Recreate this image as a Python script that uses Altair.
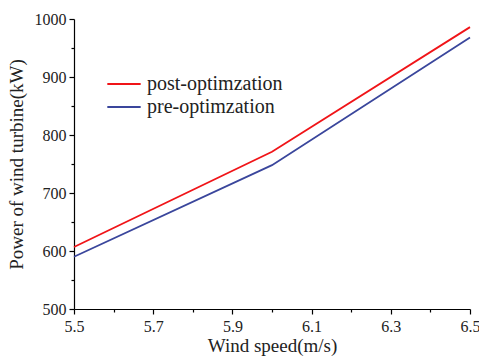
import altair as alt
import pandas as pd

wind_speed = [5.5, 6.0, 6.5]
post_opt = [607, 771, 986]
pre_opt = [590, 748, 968]
series_names = ["post-optimzation", "pre-optimzation"]
x_ticks = [5.5, 5.6, 5.7, 5.8, 5.9, 6.0, 6.1, 6.2, 6.3, 6.4, 6.5]
y_ticks = [500, 550, 600, 650, 700, 750, 800, 850, 900, 950, 1000]

rows = []
for x, v in zip(wind_speed, post_opt):
    rows.append({"speed": x, "power": v, "series": series_names[0]})
for x, v in zip(wind_speed, pre_opt):
    rows.append({"speed": x, "power": v, "series": series_names[1]})
df = pd.DataFrame(rows)

FONT = "Liberation Serif"

chart = alt.Chart(df).mark_line(strokeWidth=1.8).encode(
    x=alt.X("speed:Q", title="Wind speed(m/s)",
            scale=alt.Scale(domain=[5.5, 6.5], nice=False, zero=False),
            axis=alt.Axis(values=x_ticks, grid=False, format=".1f",
                          labelExpr="(round(datum.value*10) % 2 == 1) ? datum.label : ''",
                          tickSize={"condition": {"test": "round(datum.value*10) % 2 == 1", "value": 5}, "value": 3},
                          labelFont=FONT, titleFont=FONT,
                          labelFontSize=16, titleFontSize=19, labelPadding=4,
                          titlePadding=2, labelFlush=False)),
    y=alt.Y("power:Q", title="Power of wind turbine(kW)",
            scale=alt.Scale(domain=[500, 1000], nice=False, zero=False),
            axis=alt.Axis(values=y_ticks, grid=False, format="d",
                          labelExpr="(datum.value % 100 == 0) ? datum.label : ''",
                          tickSize={"condition": {"test": "datum.value % 100 == 0", "value": 5}, "value": 3},
                          labelFont=FONT, titleFont=FONT,
                          labelFontSize=16, titleFontSize=19, labelPadding=3,
                          titlePadding=8)),
    color=alt.Color("series:N",
                    scale=alt.Scale(domain=series_names, range=["#f01418", "#3a469c"]),
                    legend=alt.Legend(title=None, orient="none", legendX=37, legendY=52,
                                      symbolType="M-1.39,0H1.39", symbolSize=576,
                                      symbolStrokeWidth=2, labelFontSize=20, labelFont=FONT,
                                      labelOffset=10, rowPadding=0, labelLimit=300)),
).properties(
    width=396, height=290,
    padding={"left": 74, "top": 19, "right": 9, "bottom": 50},
    autosize=alt.AutoSizeParams(type="none"),
).configure_view(stroke=None).configure_axis(
    domainColor="black", tickColor="black", labelColor="#222", titleColor="#222",
    titleFontWeight="normal", domainWidth=1.2, tickWidth=1.2
).configure_legend(labelColor="#222")

chart.save("out.html", embed_options={"renderer": "svg", "actions": False})
